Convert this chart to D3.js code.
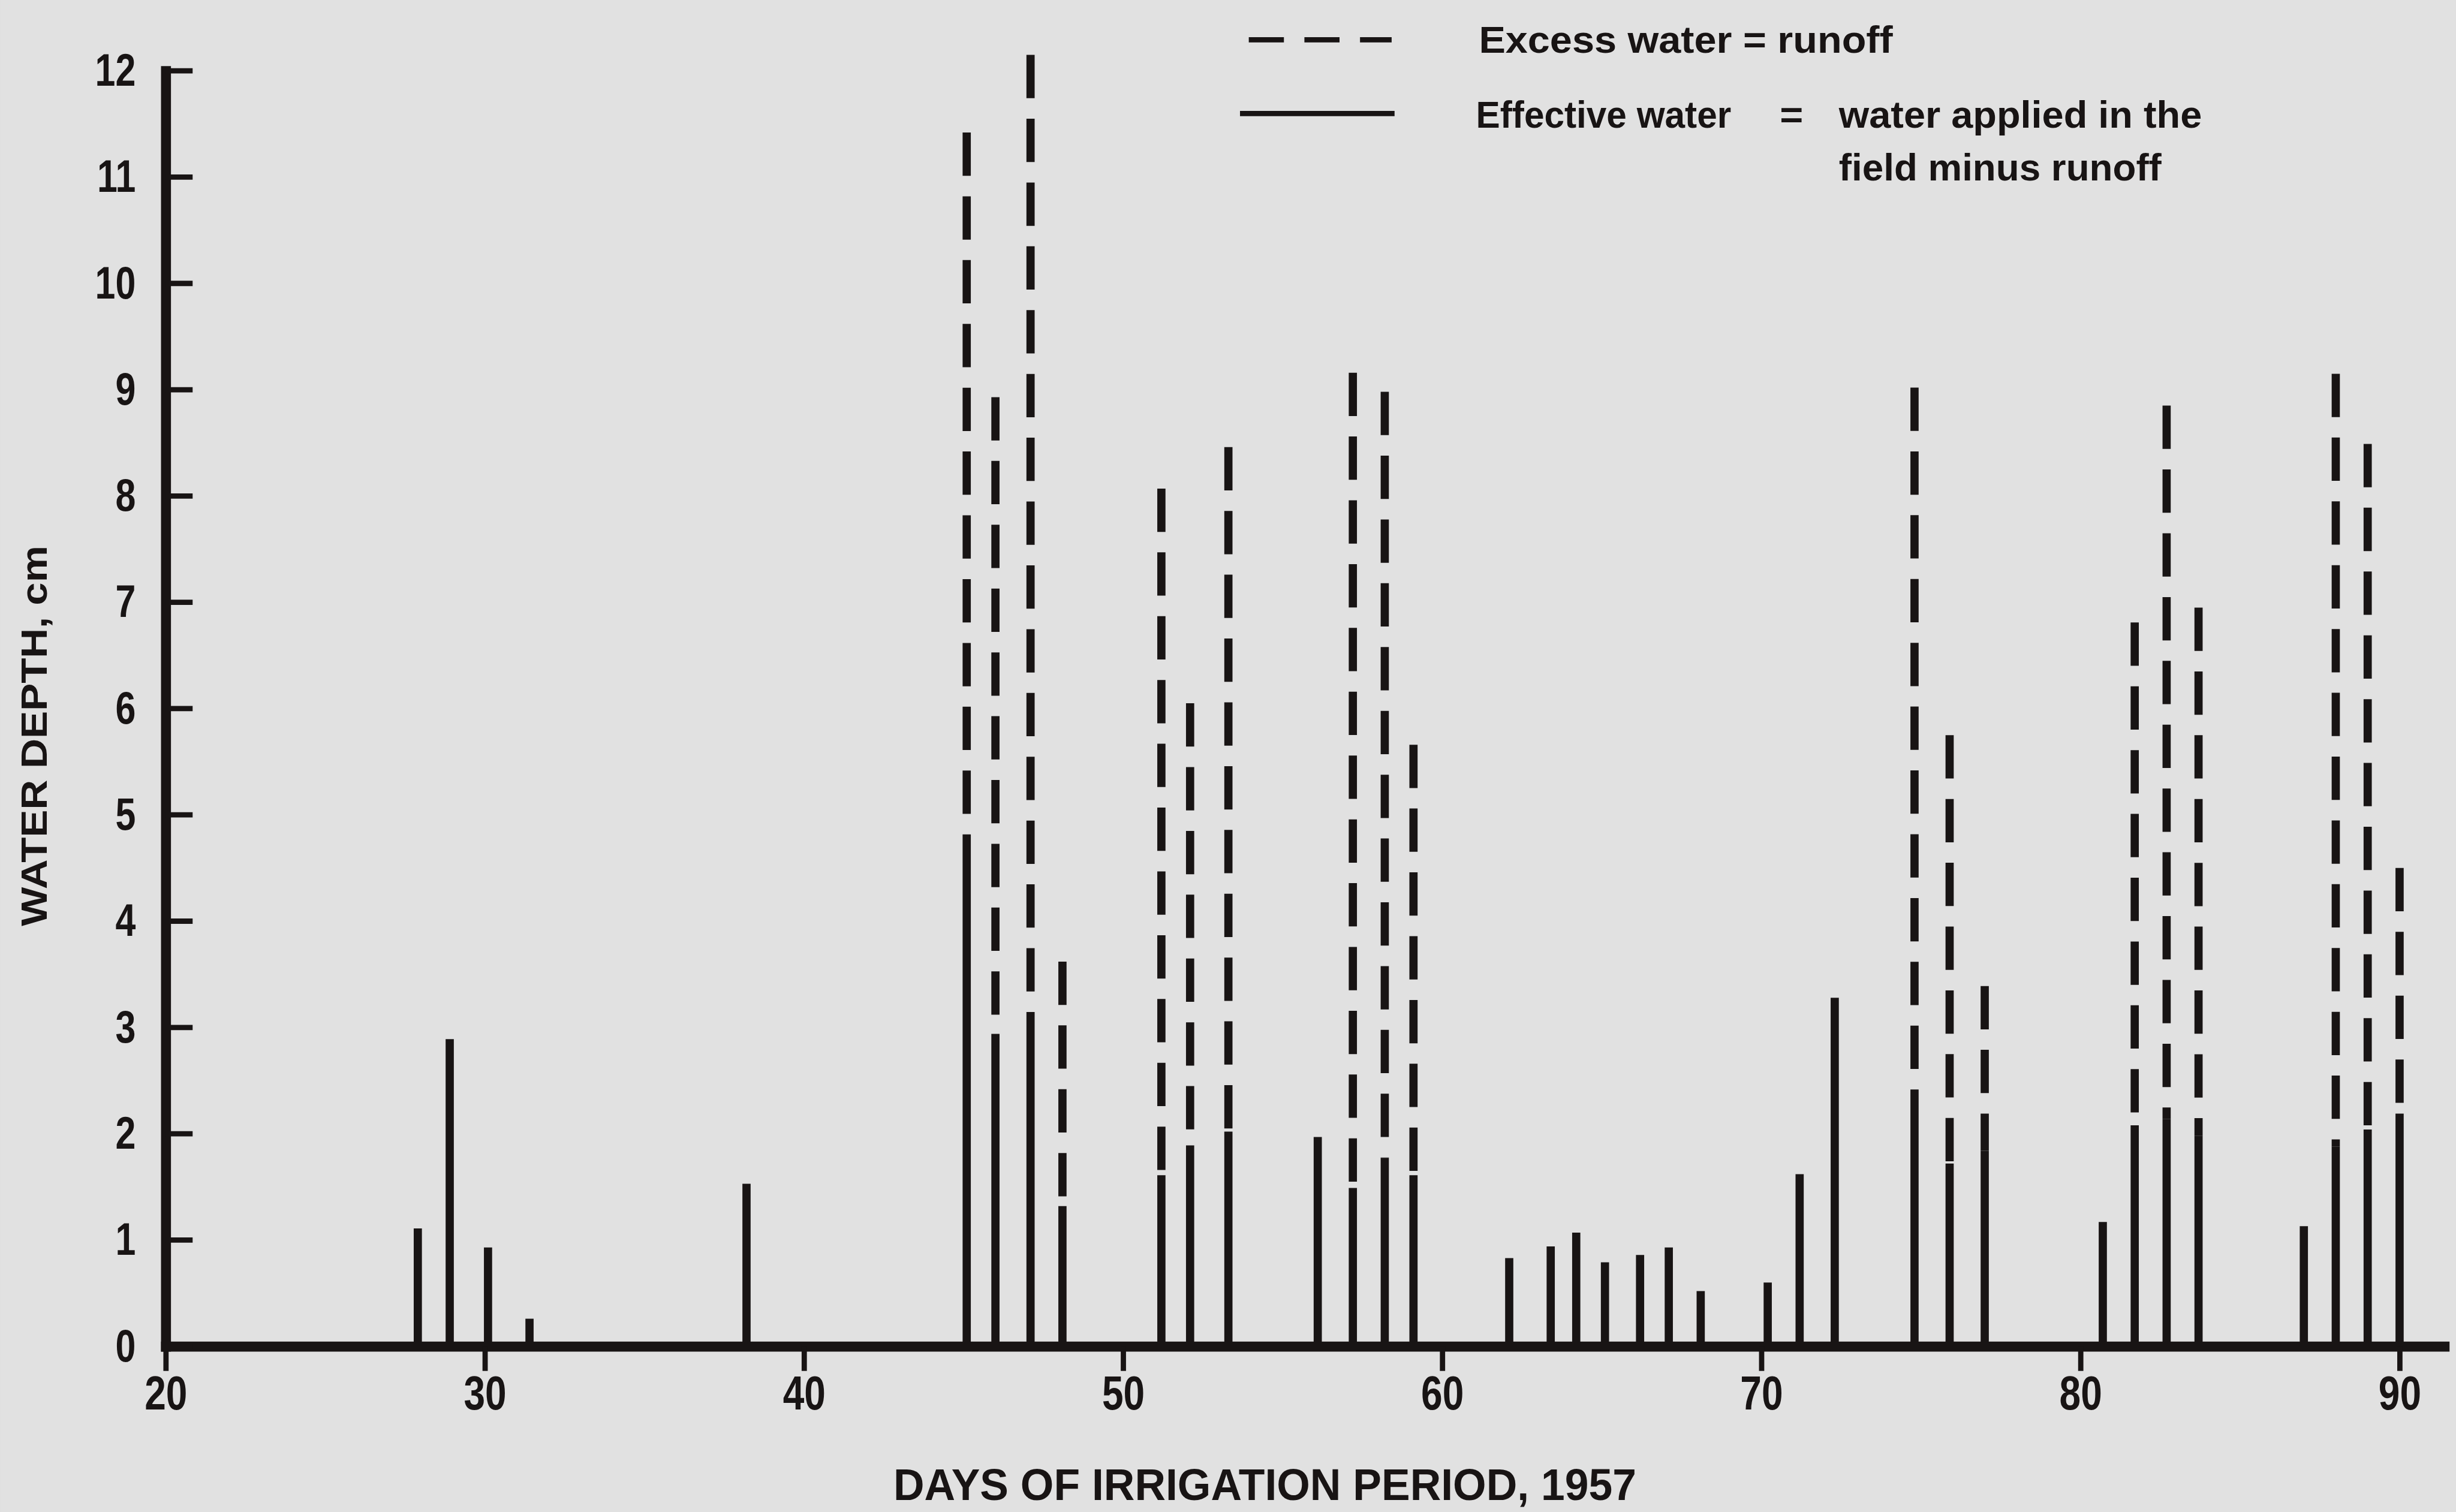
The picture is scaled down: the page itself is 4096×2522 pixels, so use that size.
<!DOCTYPE html>
<html>
<head>
<meta charset="utf-8">
<script src="https://cdn.jsdelivr.net/npm/d3@7"></script>
<style>
  html, body { margin: 0; padding: 0; background: #e1e1e1; }
  svg { display: block; }
</style>
</head>
<body>
<svg id="chart"></svg>
<script>
// irrigation days and water depths, cm
const day = [27.9, 28.9, 30.1, 31.4, 38.2, 45.1, 46.0, 47.1, 48.1, 51.2, 52.1, 53.3,
  56.1, 57.2, 58.2, 59.1, 62.1, 63.4, 64.2, 65.1, 66.2, 67.1, 68.1, 70.2, 71.2, 72.3,
  74.8, 75.9, 77.0, 80.7, 81.7, 82.7, 83.7, 87.0, 88.0, 89.0, 90.0];
// effective water = applied minus runoff (solid part)
const effective = [1.11, 2.89, 0.93, 0.26, 1.53, 4.55, 2.94, 3.10, 1.32, 1.61, 1.89, 2.02,
  1.97, 1.49, 1.77, 1.61, 0.83, 0.94, 1.07, 0.79, 0.86, 0.93, 0.52, 0.60, 1.62, 3.28,
  2.08, 1.72, 1.84, 1.17, 2.08, 2.14, 1.98, 1.13, 1.88, 2.04, 2.19];
// water applied in the field (top of the dashed part)
const applied = [1.11, 2.89, 0.93, 0.26, 1.53, 11.42, 8.93, 12.15, 3.62, 8.07, 6.05, 8.46,
  1.97, 9.16, 8.98, 5.66, 0.83, 0.94, 1.07, 0.79, 0.86, 0.93, 0.52, 0.60, 1.62, 3.28,
  9.02, 5.75, 3.39, 1.17, 6.81, 8.85, 6.95, 1.13, 9.15, 8.49, 4.50];

const xTicks = [20, 30, 40, 50, 60, 70, 80, 90];
const yTicks = [0, 1, 2, 3, 4, 5, 6, 7, 8, 9, 10, 11, 12];

const W = 4195, H = 2583;
const ink = "#181414";
const font = "'Liberation Sans', Arial, sans-serif";

const svg = d3.select("#chart")
  .attr("width", 4096)
  .attr("height", 2522)
  .attr("viewBox", `0 0 ${W} ${H}`);

svg.append("rect").attr("width", W).attr("height", H).attr("fill", "#e1e1e1");

const x = d3.scaleLinear().domain([20, 91.4]).range([283, 4175]);
const y = d3.scaleLinear().domain([0, 12]).range([2300, 121]);

const data = day.map((d, i) => ({ day: d, eff: effective[i], tot: applied[i] }));

// solid bars: effective water
svg.append("g")
  .attr("stroke", ink)
  .attr("stroke-width", 14)
  .selectAll("line")
  .data(data)
  .join("line")
  .attr("x1", (d) => x(d.day))
  .attr("x2", (d) => x(d.day))
  .attr("y1", y(0))
  .attr("y2", (d) => y(d.eff));

// dashed part: excess water = runoff
svg.append("g")
  .attr("stroke", ink)
  .attr("stroke-width", 14)
  .attr("stroke-dasharray", "74,35")
  .selectAll("path")
  .data(data.filter((d) => d.tot > d.eff))
  .join("path")
  .attr("d", (d) => `M${x(d.day)},${y(d.tot)}V${y(d.eff)}`);

// x axis
const xAxis = svg.append("g")
  .attr("transform", `translate(0,${y(0)})`)
  .call(d3.axisBottom(x).tickValues(xTicks).tickSize(42).tickSizeOuter(0));
xAxis.select(".domain").attr("stroke", ink).attr("stroke-width", 17).attr("stroke-linecap", "square");
xAxis.selectAll(".tick line").attr("stroke", ink).attr("stroke-width", 9);
xAxis.selectAll(".tick text")
  .attr("y", 50)
  .attr("fill", ink)
  .attr("font-family", font)
  .attr("font-weight", "bold")
  .attr("font-size", 82)
  .attr("transform", "scale(0.8,1)");

// y axis (labels from d3), ticks drawn inwards below
const yAxis = svg.append("g")
  .attr("transform", `translate(${x(20)},0)`)
  .call(d3.axisLeft(y).tickValues(yTicks).tickSize(0).tickSizeOuter(0));
yAxis.select(".domain").attr("stroke", ink).attr("stroke-width", 17).attr("stroke-linecap", "square");
yAxis.selectAll(".tick line").remove();
yAxis.selectAll(".tick text")
  .attr("x", -64)
  .attr("fill", ink)
  .attr("font-family", font)
  .attr("font-weight", "bold")
  .attr("font-size", 78)
  .attr("transform", "scale(0.8,1)");

svg.append("g")
  .attr("stroke", ink)
  .attr("stroke-width", 9)
  .selectAll("line")
  .data(yTicks)
  .join("line")
  .attr("x1", x(20))
  .attr("x2", x(20) + 46)
  .attr("y1", (d) => y(d))
  .attr("y2", (d) => y(d));

// axis titles
svg.append("text")
  .attr("transform", "translate(80,1257) rotate(-90)")
  .attr("text-anchor", "middle")
  .attr("font-family", font)
  .attr("font-weight", "bold")
  .attr("font-size", 62)
  .attr("fill", ink)
  .attr("textLength", 650)
  .attr("lengthAdjust", "spacingAndGlyphs")
  .text("WATER DEPTH, cm");

svg.append("text")
  .attr("x", 1526)
  .attr("y", 2563)
  .attr("font-family", font)
  .attr("font-weight", "bold")
  .attr("font-size", 76)
  .attr("fill", ink)
  .attr("textLength", 1269)
  .attr("lengthAdjust", "spacingAndGlyphs")
  .text("DAYS OF IRRIGATION PERIOD, 1957");

// legend
const legend = svg.append("g").attr("stroke", ink);
legend.append("line")
  .attr("x1", 2133).attr("x2", 2377).attr("y1", 68).attr("y2", 68)
  .attr("stroke-width", 9)
  .attr("stroke-dasharray", "60,35");
legend.append("line")
  .attr("x1", 2118).attr("x2", 2382).attr("y1", 194).attr("y2", 194)
  .attr("stroke-width", 9);

const legendText = [
  { x: 2526, y: 90, len: 707, t: "Excess water = runoff" },
  { x: 2521, y: 218, len: 436, t: "Effective water" },
  { x: 3040, y: 218, len: 40, t: "=" },
  { x: 3141, y: 218, len: 620, t: "water applied in the" },
  { x: 3141, y: 308, len: 551, t: "field minus runoff" },
];
svg.append("g")
  .selectAll("text")
  .data(legendText)
  .join("text")
  .attr("x", (d) => d.x)
  .attr("y", (d) => d.y)
  .attr("font-family", font)
  .attr("font-weight", "bold")
  .attr("font-size", 64)
  .attr("fill", ink)
  .attr("textLength", (d) => d.len)
  .attr("lengthAdjust", "spacingAndGlyphs")
  .text((d) => d.t);
</script>
</body>
</html>
